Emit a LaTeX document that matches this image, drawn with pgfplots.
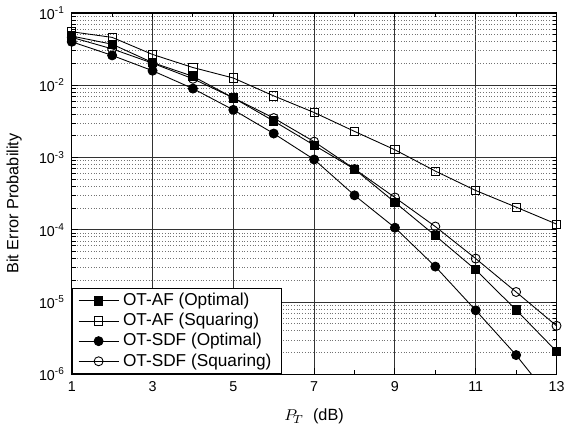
\documentclass[border=0pt]{standalone}
\usepackage{fontspec}
\setmainfont{Liberation Sans}
\usepackage{pgfplots}
\pgfplotsset{compat=1.18}

\begin{document}
\begin{tikzpicture}
\begin{axis}[
  scale only axis,
  width=247.5pt, height=184.5pt,
  ymode=log,
  xmin=1, xmax=13,
  ymin=1e-6, ymax=1e-1,
  xtick={1,3,...,13},
  minor xtick={2,4,...,12},
  ytick={1e-6,1e-5,1e-4,1e-3,1e-2,1e-1},
  yticklabels={10\textsuperscript{-6},10\textsuperscript{-5},10\textsuperscript{-4},10\textsuperscript{-3},10\textsuperscript{-2},10\textsuperscript{-1}},
  /pgf/number format/assume math mode=true,
  tick label style={font=\fontsize{7.3}{8}\selectfont},
  xmajorgrids, ymajorgrids, yminorgrids,
  major grid style={black!80, line width=0.5pt},
  minor grid style={black!55, densely dotted, line width=0.4pt},
  tick style={black, line width=0.5pt},
  major tick length=3pt, minor tick length=2pt,
  axis line style={line width=0.6pt},
  xlabel={$P_{\!T}$\ \ (dB)},
  ylabel={Bit Error Probability},
  label style={font=\fontsize{8.3}{10}\selectfont},
  xlabel style={yshift=-2pt},
  ylabel style={yshift=2pt, xshift=-5pt},
  legend cell align=left,
  legend style={font=\fontsize{8.8}{10}\selectfont, draw=black, line width=0.5pt,
    inner xsep=3pt, inner ysep=0.5pt, row sep=-1.6pt, at={(0,0)}, anchor=south west},
  legend image code/.code={\draw[mark repeat=2, mark phase=2]
    plot coordinates {(0cm,0cm) (0.36cm,0cm) (0.72cm,0cm)};},
  every axis plot/.append style={black, line width=0.45pt},
  mark size=2.3pt,
]

\addplot[mark=square*, mark options={solid, fill=black, mark size=2.1pt}] coordinates {
(1,0.048) (2,0.037) (3,0.0206) (4,0.0133) (5,0.0067) (6,0.0032) (7,1.48e-3)
(8,6.9e-4) (9,2.4e-4) (10,8.3e-5) (11,2.8e-5) (12,7.8e-6) (13,2.08e-6)
};
\addlegendentry{OT-AF (Optimal)}

\addplot[mark=square, mark options={solid, fill=white, mark size=2.1pt}] coordinates {
(1,0.055) (2,0.046) (3,0.0267) (4,0.0176) (5,0.0126) (6,0.00713) (7,0.0042)
(8,0.0023) (9,0.00128) (10,6.5e-4) (11,3.5e-4) (12,2.06e-4) (13,1.2e-4)
};
\addlegendentry{OT-AF (Squaring)}

\addplot[mark=*, mark options={solid, fill=black}] coordinates {
(1,0.040) (2,0.0259) (3,0.0159) (4,0.0090) (5,0.00457) (6,0.00215) (7,9.4e-4)
(8,3.0e-4) (9,1.07e-4) (10,3.1e-5) (11,7.7e-6) (12,1.85e-6) (13,3.7e-7)
};
\addlegendentry{OT-SDF (Optimal)}

\addplot[mark=o, mark options={solid, fill=white}] coordinates {
(1,0.046) (2,0.0319) (3,0.0202) (4,0.0123) (5,0.0067) (6,0.00352) (7,1.66e-3)
(8,6.95e-4) (9,2.8e-4) (10,1.11e-4) (11,4.0e-5) (12,1.38e-5) (13,4.7e-6)
};
\addlegendentry{OT-SDF (Squaring)}

\end{axis}
\end{tikzpicture}
\end{document}
